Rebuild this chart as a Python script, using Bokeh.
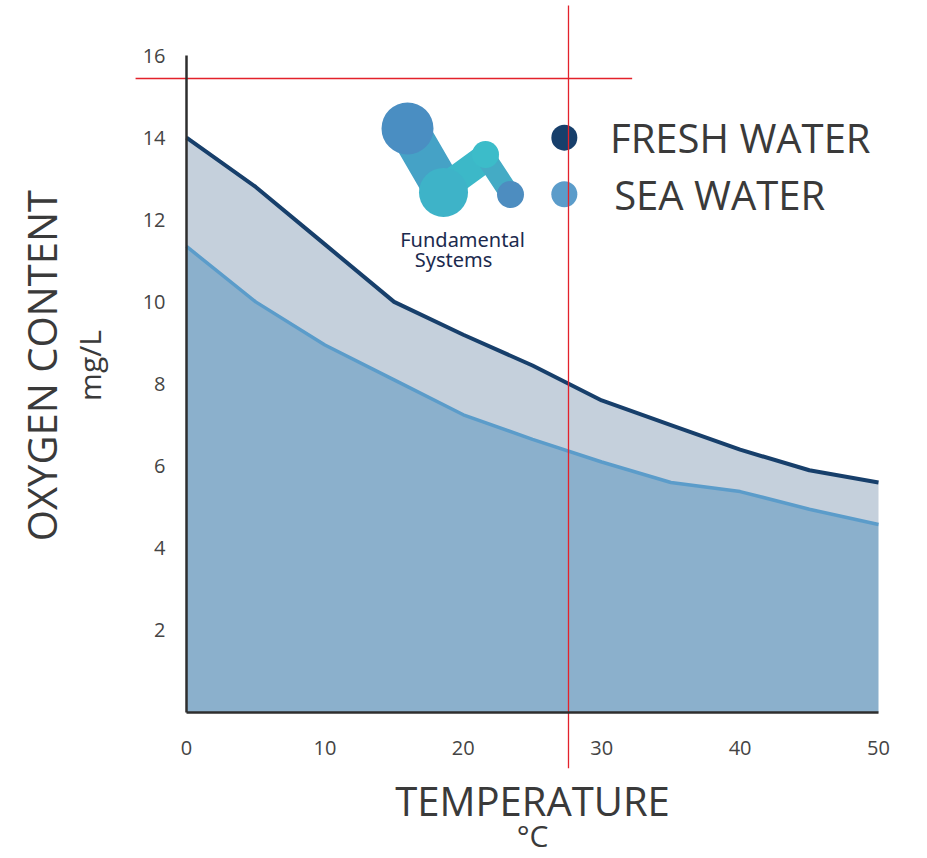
from bokeh.plotting import figure
from bokeh.models import ColumnDataSource, FixedTicker
from bokeh.core.properties import value
from bokeh.embed import file_html
from bokeh.resources import INLINE

# ---- data ----
temperature = [0, 5, 10, 15, 20, 25, 30, 35, 40, 45, 50]
fresh_water = [14.0, 12.8, 11.4, 10.0, 9.2, 8.45, 7.6, 7.0, 6.4, 5.9, 5.6]
sea_water = [11.35, 10.0, 8.95, 8.1, 7.25, 6.65, 6.1, 5.6, 5.38, 4.95, 4.58]
x_ticks = [0, 10, 20, 30, 40, 50]
y_ticks = [2, 4, 6, 8, 10, 12, 14, 16]
series_names = ["FRESH WATER", "SEA WATER"]
x_title = ["TEMPERATURE", "°C"]
y_title = ["OXYGEN CONTENT", "mg/L"]
logo_text = ["Fundamental", "Systems"]

# marker lines (annotation)
marker_temp = 27.6
marker_oxygen = 15.44

FRESH = "#173f6b"
SEA = "#5b9cca"
BAND = "#c5d0dc"
SEAFILL = "#8bb0cc"
TXT = "#3a3a3a"
RED = "#e3222b"

src = ColumnDataSource(dict(t=temperature, f=fresh_water, s=sea_water, z=[0] * len(temperature)))

p = figure(width=927, height=858, x_range=(-13.44, 53.54), y_range=(-3.556, 17.34),
           min_border=0, toolbar_location=None, output_backend="svg")
p.outline_line_color = None
p.background_fill_color = "white"
p.border_fill_color = "white"
p.xgrid.visible = False
p.ygrid.visible = False

# areas
p.varea(x="t", y1="s", y2="f", source=src, fill_color=BAND)
p.varea(x="t", y1="z", y2="s", source=src, fill_color=SEAFILL)
p.line(x="t", y="s", source=src, line_color=SEA, line_width=3.5, line_join="round")
p.line(x="t", y="f", source=src, line_color=FRESH, line_width=4, line_join="round")

# axes at data positions
for ax in (p.xaxis[0], p.yaxis[0]):
    ax.fixed_location = 0
    ax.axis_line_color = "#2e2e2e"
    ax.axis_line_width = 2.5
    ax.major_tick_line_color = None
    ax.minor_tick_line_color = None
    ax.major_label_text_color = "#444444"
    ax.major_label_text_font = "Open Sans"
    ax.major_label_text_font_size = "20px"
p.xaxis[0].ticker = FixedTicker(ticks=x_ticks)
p.yaxis[0].ticker = FixedTicker(ticks=y_ticks)
p.xaxis[0].bounds = (0, 50)
p.yaxis[0].bounds = (0, 16)
p.xaxis[0].major_label_standoff = 23
p.yaxis[0].major_label_standoff = 15

# axis titles
p.text(x=[25.0], y=[-2.14], text=[x_title[0]], text_font=value("Open Sans"), text_font_size="40px",
       text_color=TXT, text_align="center", text_baseline="middle")
p.text(x=[25.0], y=[-3.0], text=[x_title[1]], text_font=value("Open Sans"), text_font_size="30px",
       text_color=TXT, text_align="center", text_baseline="middle")
p.text(x=[-10.45], y=[8.45], text=[y_title[0]], angle=1.5708, text_font=value("Open Sans"),
       text_font_size="40px", text_color=TXT, text_align="center", text_baseline="middle")
p.text(x=[-7.0], y=[8.45], text=[y_title[1]], angle=1.5708, text_font=value("Open Sans"),
       text_font_size="30px", text_color=TXT, text_align="center", text_baseline="middle")

# legend
p.scatter(x=[27.3, 27.3], y=[14.0, 12.62], size=26, color=[FRESH, SEA], line_color=None)
p.text(x=[30.6, 30.9], y=[14.0, 12.62], text=series_names, text_font=value("Open Sans"),
       text_font_size="40px", text_color=TXT, text_align="left", text_baseline="middle")

# logo
def dx(px):
    return (px - 186) / 13.84

def dy(py):
    return (712 - py) / 41.06

p.line(x=[dx(412), dx(441)], y=[dy(136), dy(186)], line_width=40, line_color="#45a2c6", line_cap="round")
p.line(x=[dx(447), dx(484)], y=[dy(185), dy(158)], line_width=28, line_color="#3cb8c8", line_cap="round")
p.line(x=[dx(486), dx(507)], y=[dy(158), dy(190)], line_width=20, line_color="#44abc5", line_cap="round")
p.scatter(x=[dx(407), dx(443), dx(485), dx(510)], y=[dy(128), dy(192), dy(154), dy(194)],
          size=[52, 49, 27, 27], color=["#4a8ec2", "#3eb3c8", "#3cbcc9", "#4d8dc0"], line_color=None)
p.text(x=[dx(462), dx(453)], y=[dy(239), dy(259)], text=logo_text, text_font=value("Noto Sans"),
       text_font_size="20px", text_color="#1b2a4e", text_align="center", text_baseline="middle")

# red marker lines
p.segment(x0=[-3.68, marker_temp], y0=[marker_oxygen, 17.22], x1=[32.2, marker_temp],
          y1=[marker_oxygen, -1.36], line_color=RED, line_width=1.3)

open("out.html", "w").write(file_html(p, INLINE))
